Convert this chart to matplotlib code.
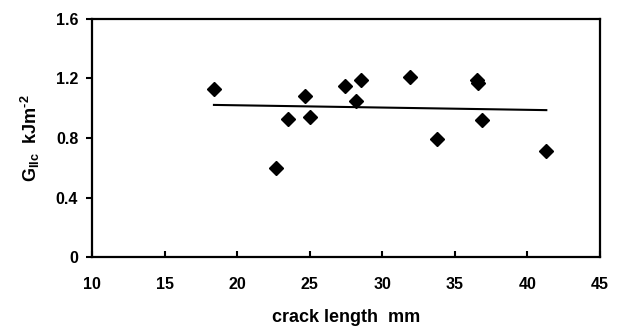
import matplotlib
matplotlib.use("Agg")
import matplotlib.pyplot as plt
import numpy as np

plt.rcParams["font.family"] = "Liberation Sans"
plt.rcParams["font.weight"] = "bold"
plt.rcParams["mathtext.fontset"] = "custom"
plt.rcParams["mathtext.rm"] = "Liberation Sans:bold"
plt.rcParams["mathtext.bf"] = "Liberation Sans:bold"

# crack length (mm) vs mode II fracture toughness (kJ/m^2)
crack_length = [18.4, 22.7, 23.5, 24.7, 25.0, 27.4, 28.2, 28.5,
                31.9, 33.8, 36.5, 36.6, 36.9, 41.3]
g_iic = [1.13, 0.60, 0.93, 1.08, 0.94, 1.15, 1.05, 1.19,
         1.21, 0.79, 1.19, 1.17, 0.92, 0.71]
x_ticks = [10, 15, 20, 25, 30, 35, 40, 45]
y_ticks = [0, 0.4, 0.8, 1.2, 1.6]

fig = plt.figure(figsize=(6.18, 3.31), dpi=100)
ax = fig.add_axes([0.1489, 0.2221, 0.9709 - 0.1489, 0.9441 - 0.2221])

ax.plot(crack_length, g_iic, linestyle="none", marker="D", ms=7,
        color="black", zorder=3)

# linear trend line
coef = np.polyfit(crack_length, g_iic, 1)
xs = np.array([min(crack_length), max(crack_length)])
ax.plot(xs, np.polyval(coef, xs), color="black", lw=1.5)

ax.set_xlim(10, 45)
ax.set_ylim(0, 1.6)
ax.set_xticks(x_ticks)
ax.set_yticks(y_ticks)
ax.set_yticklabels(["0", "0.4", "0.8", "1.2", "1.6"])

for s in ax.spines.values():
    s.set_linewidth(1.6)
ax.tick_params(axis="x", direction="in", length=4, width=1.5, pad=14,
               labelsize=11.5)
ax.tick_params(axis="y", direction="out", length=4, width=1.5, pad=6,
               labelsize=11.5)

ax.set_xlabel("crack length  mm", fontsize=13, fontweight="bold",
              labelpad=12)
ax.set_ylabel(r"G$_{\rm IIc}$  kJm$^{\text{-2}}$", fontsize=13,
              fontweight="bold", labelpad=10)

fig.savefig("out.png", dpi=100)
